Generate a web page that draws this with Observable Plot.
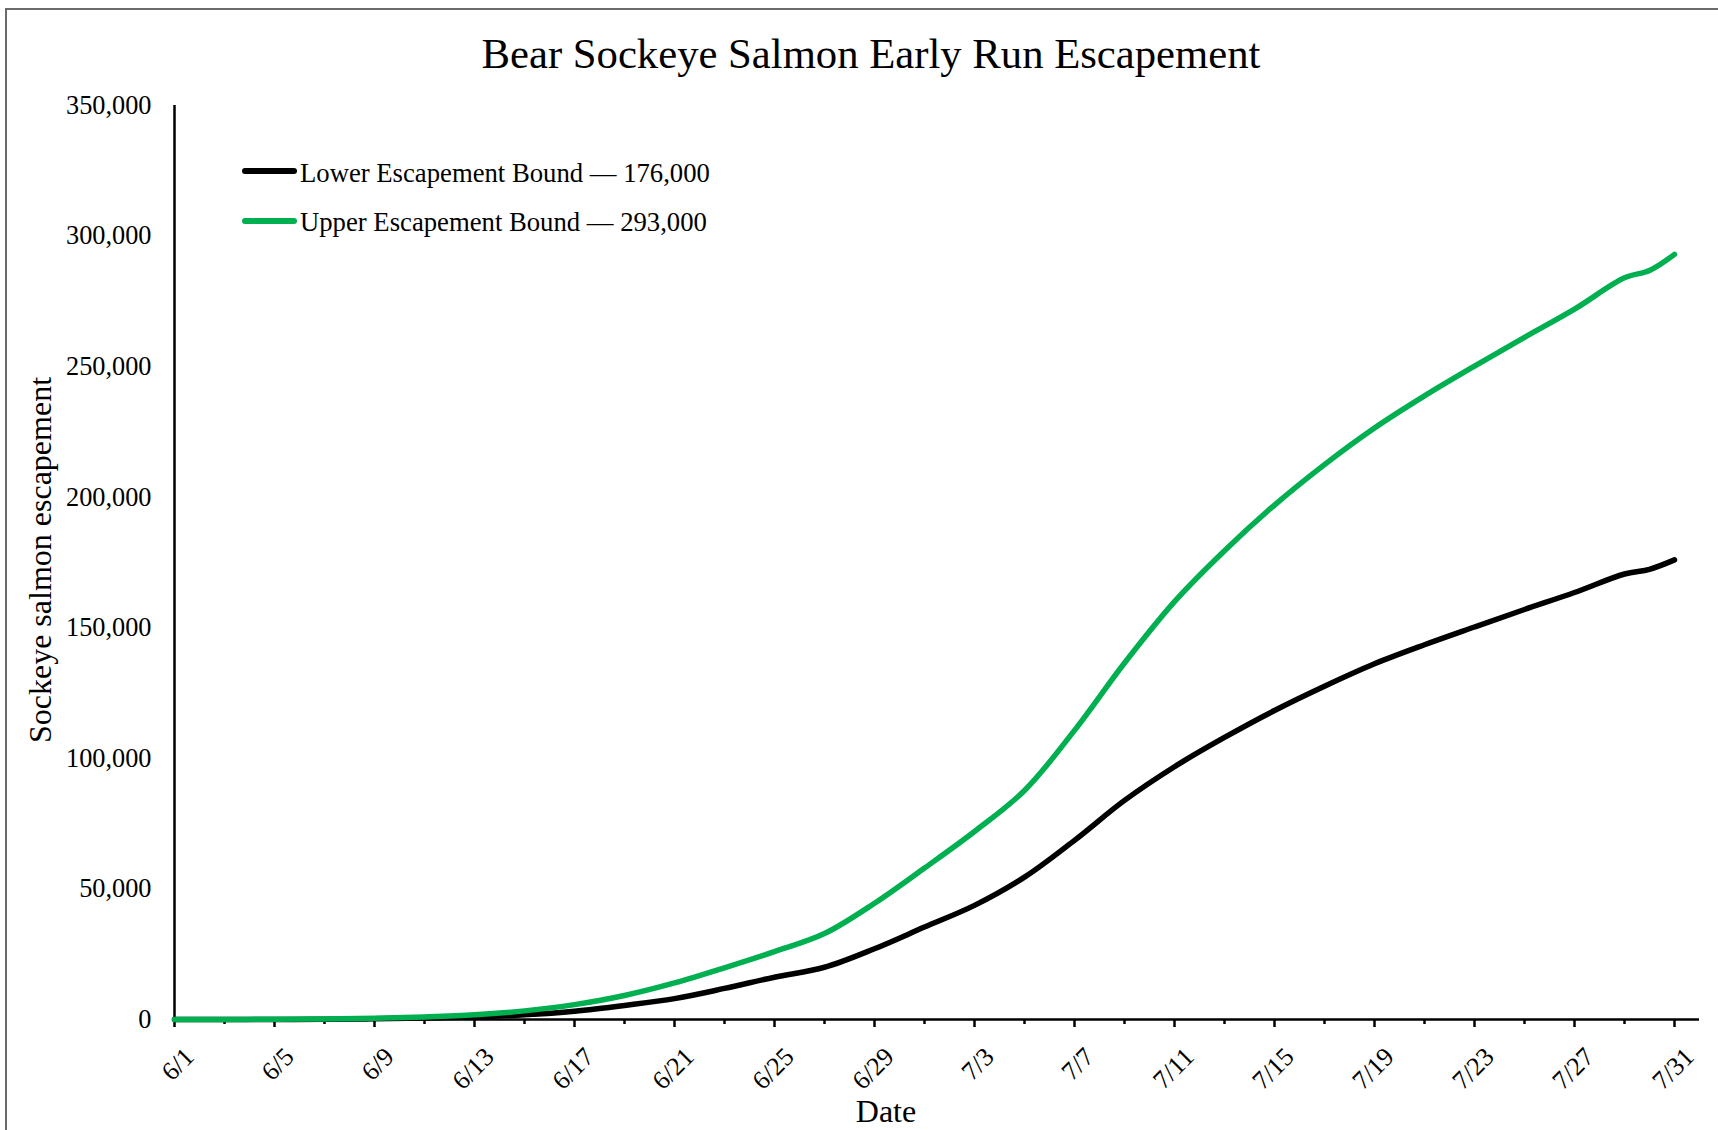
<!DOCTYPE html>
<html><head><meta charset="utf-8">
<script src="https://cdn.jsdelivr.net/npm/d3@7"></script>
<script src="https://cdn.jsdelivr.net/npm/@observablehq/plot@0.6"></script>
<style>
html,body{margin:0;padding:0;background:#fff;overflow:hidden;}
#wrap{position:relative;width:1718px;height:1130px;overflow:hidden;background:#fff;font-family:"Liberation Serif","Times New Roman",serif;color:#000;}
#frame{position:absolute;left:5px;top:8px;width:1800px;height:1300px;border:2px solid #6b6b6b;box-sizing:border-box;}
#chart{position:absolute;left:0;top:0;}
.t{position:absolute;white-space:nowrap;line-height:1;}
.sw{position:absolute;height:5.5px;border-radius:3px;}
</style></head><body>
<div id="wrap">
  <div id="frame"></div>
  <div id="chart"></div>
  <div class="t" style="left:0;width:1742px;text-align:center;top:33px;font-size:42.7px;">Bear Sockeye Salmon Early Run Escapement</div>
  <div class="sw" style="left:242px;top:168px;width:55px;background:#000000;"></div>
  <div class="t" style="left:300px;top:159.5px;font-size:26.7px;" id="leg1"></div>
  <div class="sw" style="left:242px;top:218px;width:55px;background:#00B050;"></div>
  <div class="t" style="left:300px;top:208.5px;font-size:26.7px;" id="leg2"></div>
  <div class="t" style="left:-210px;top:544px;width:500px;height:32px;line-height:32px;text-align:center;font-size:32px;transform:rotate(-90deg);">Sockeye salmon escapement</div>
  <div class="t" style="left:786px;width:200px;text-align:center;top:1095px;font-size:32px;">Date</div>
</div>
<script>
// ---- data ----
const dates = ["6/1","6/3","6/5","6/7","6/9","6/11","6/13","6/15","6/17","6/19","6/21","6/23","6/25","6/27","6/29",
               "7/1","7/3","7/5","7/7","7/9","7/11","7/13","7/15","7/17","7/19","7/21","7/23","7/25","7/27","7/29","7/30","7/31"];
const upper = [0,0,100,200,500,1000,1800,3300,5700,9200,14000,19800,26000,32900,44500,
               58000,72000,87700,110700,136500,160000,179500,197000,212500,226500,238800,250200,261200,272000,284000,286800,293000];
const lower = [0,0,0,100,250,550,1000,1800,3200,5400,8000,11900,16200,20000,27100,
               35400,43700,54500,68600,83900,96800,108000,118300,127600,136200,143500,150300,157000,163500,170600,172400,176000];
const seriesNames = ["Lower Escapement Bound", "Upper Escapement Bound"];
const seriesTotals = [176000, 293000];
const seriesColors = ["#000000", "#00B050"];
const majorTickLabels = ["6/1","6/5","6/9","6/13","6/17","6/21","6/25","6/29","7/3","7/7","7/11","7/15","7/19","7/23","7/27","7/31"];
const minorTickLabels = ["6/3","6/7","6/11","6/15","6/19","6/23","6/27","7/1","7/5","7/9","7/13","7/17","7/21","7/25","7/29"];
const yTicks = [0,50000,100000,150000,200000,250000,300000,350000];
const axisStart = "6/1", axisEnd = "8/1";
const year = 2023;

const parse = s => { const [m, d] = s.split("/").map(Number); return new Date(Date.UTC(year, m - 1, d)); };
const fmt = d3.format(",");
document.getElementById("leg1").textContent = `${seriesNames[0]} \u2014 ${fmt(seriesTotals[0])}`;
document.getElementById("leg2").textContent = `${seriesNames[1]} \u2014 ${fmt(seriesTotals[1])}`;

const rows = [];
dates.forEach((s, i) => rows.push({date: parse(s), value: lower[i], series: seriesNames[0]}));
dates.forEach((s, i) => rows.push({date: parse(s), value: upper[i], series: seriesNames[1]}));
const majorDates = majorTickLabels.map(parse);
const minorDates = minorTickLabels.map(parse);
const labelOf = d => `${d.getUTCMonth() + 1}/${d.getUTCDate()}`;
const xStart = parse(axisStart), xEnd = parse(axisEnd);

const chart = Plot.plot({
  width: 1718, height: 1130,
  marginLeft: 174, marginRight: 19, marginTop: 105, marginBottom: 111,
  style: {fontFamily: "Liberation Serif, Times New Roman, serif", fontSize: "26px", color: "#000", background: "transparent", overflow: "visible"},
  x: {type: "utc", domain: [xStart, xEnd]},
  y: {domain: [0, 350000]},
  color: {domain: seriesNames, range: seriesColors},
  marks: [
    Plot.axisY({ticks: yTicks, tickSize: 0, tickPadding: 23, tickFormat: fmt, label: null, fontSize: 26.3}),
    Plot.axisX({ticks: minorDates, tickSize: 5, strokeWidth: 2.5, text: null, label: null}),
    Plot.axisX({ticks: majorDates, tickSize: 8, strokeWidth: 2.5, text: null, label: null}),
    Plot.axisX({ticks: majorDates, tickSize: 0, tickRotate: -45, tickPadding: 33, dx: 15, tickFormat: labelOf, label: null, fontSize: 26}),
    Plot.ruleX([xStart], {strokeWidth: 2.5}),
    Plot.ruleY([0], {strokeWidth: 2.5}),
    Plot.line(rows, {x: "date", y: "value", z: "series", stroke: "series", strokeWidth: 5.5,
      curve: "catmull-rom", strokeLinecap: "round", strokeLinejoin: "round"})
  ]
});
document.getElementById("chart").appendChild(chart);
</script>
</body></html>
